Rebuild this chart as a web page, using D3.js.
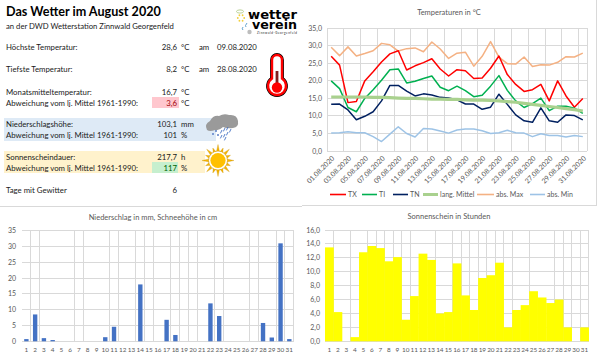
<!DOCTYPE html>
<html>
<head>
<meta charset="utf-8">
<script src="https://cdnjs.cloudflare.com/ajax/libs/d3/7.8.5/d3.min.js"></script>
<style>
  html,body{margin:0;padding:0;background:#fff;}
  svg{display:block;}
  text{font-family:Lato,"Open Sans",sans-serif;fill:#262626;}
  .tick-label{font-size:7px;fill:#595959;}
  .day-label{font-size:6.4px;fill:#595959;}
  .chart-title{font-size:7.5px;fill:#595959;text-anchor:middle;}
  .grid{stroke:#d9d9d9;stroke-width:1;shape-rendering:crispEdges;}
</style>
</head>
<body>
<svg id="chart" width="600" height="361"></svg>
<script>
//--- chart values
var days = d3.range(1,32);
var dateLabels = ["01.08.2020","03.08.2020","05.08.2020","07.08.2020","09.08.2020","11.08.2020","13.08.2020","15.08.2020","17.08.2020","19.08.2020","21.08.2020","23.08.2020","25.08.2020","27.08.2020","29.08.2020","31.08.2020"];
var tx = [27.0,24.5,13.8,14.1,20.0,22.6,25.4,27.7,28.6,23.1,24.3,25.2,26.3,23.4,21.4,23.2,22.9,20.7,20.8,23.6,27.1,21.8,19.0,17.0,17.5,19.0,14.3,20.0,15.7,12.5,15.0];
var tm = [20.0,17.8,12.4,11.2,15.0,17.5,20.2,23.2,23.4,19.4,19.9,20.7,21.4,18.2,17.2,18.5,17.2,15.5,15.9,18.5,21.5,17.3,14.3,12.4,13.5,15.1,11.5,12.8,12.8,12.2,10.7];
var tn = [13.3,13.4,11.7,8.9,9.9,11.2,14.3,18.7,18.7,17.1,15.7,16.3,16.0,15.3,15.1,14.6,13.4,13.4,11.9,12.5,16.2,13.3,10.3,8.6,8.2,12.3,8.6,8.2,10.3,10.1,8.9];
var langMittel = [15.4,15.4,15.4,15.4,15.4,15.3,15.3,15.2,15.1,15.0,15.0,14.9,14.8,14.8,14.7,14.7,14.6,14.5,14.5,14.4,14.3,14.1,13.9,13.6,13.3,13.0,12.7,12.4,12.1,11.8,11.4];
var absMax = [29.6,27.2,29.7,27.1,27.8,28.6,30.7,30.3,28.5,29.2,29.4,28.3,31.1,29.1,26.4,27.9,28.2,24.2,27.0,31.2,26.8,24.9,24.8,26.8,24.1,24.6,24.5,25.3,26.9,26.8,27.9];
var absMin = [5.1,5.2,5.5,5.2,5.2,4.1,2.7,4.8,6.9,5.0,4.0,6.4,6.3,5.7,5.1,6.0,6.3,6.3,5.8,5.0,5.2,5.9,5.2,5.1,4.1,4.9,4.4,4.4,4.0,4.4,4.1];
var niederschlag = [0.7,8.5,1.0,0.4,0,0,0,0,0,1.3,4.6,0,0,18.0,0,0,6.8,2.0,0,0,0,12.0,8.0,0,0,0,0,5.8,1.2,31.0,0.7];
var sonne = [13.5,4.2,0,0.6,12.8,13.7,13.4,11.5,12.1,3.1,6.5,12.6,11.7,4.0,4.2,11.2,6.6,4.5,9.1,9.5,11.3,2.0,4.5,5.2,7.2,6.3,5.5,6.0,2.0,0,2.0];

var tempTicks = [0,5,10,15,20,25,30,35];
var rainTicks = [0,5,10,15,20,25,30,35];
var sunTicks = [0,2,4,6,8,10,12,14,16];
//--- the picture only keeps some of the vertical gridlines
var rainGridDays = [1,2,6,7,10,11,13,14,15,17,18,19,20,22,23,26,27,29,30,31];
var sunGridDays = [1,3,5,6,7,8,9,10,13,15,16,17,18,19,20,21,22,24,27,28,29,30,31];

var tempSeries = [
  {name:"TX", values:tx, color:"#ff0000", width:1.5},
  {name:"TI", values:tm, color:"#00b050", width:1.5},
  {name:"TN", values:tn, color:"#002060", width:1.5},
  {name:"lang. Mittel", values:langMittel, color:"#a9d18e", width:3.2},
  {name:"abs. Max", values:absMax, color:"#f4b183", width:1.5},
  {name:"abs. Min", values:absMin, color:"#9dc3e6", width:1.5}
];
var fmt1 = function(v){ return v.toFixed(1).replace(".",","); };

var svg = d3.select("#chart");

//--- outer frame lines
function frameLine(x1,y1,x2,y2){
  svg.append("line").attr("class","grid").attr("x1",x1).attr("y1",y1).attr("x2",x2).attr("y2",y2);
}
frameLine(0,206.5,302,206.5);
frameLine(302,205.5,596,205.5);
frameLine(596.5,0,596.5,206);

//--- text panel
var panel = svg.append("g").attr("class","panel");
function bgRect(x,y,w,h,c){
  panel.append("rect").attr("x",x).attr("y",y).attr("width",w).attr("height",h).attr("fill",c);
}
bgRect(4,118,212,23,"#deeaf6");
bgRect(4,151,201,22,"#fff2cc");
bgRect(152,97,27,11,"#ffc7ce");
bgRect(152,162,26,11,"#c6efce");

function txt(x,y,s,size,anchor,color,weight){
  return panel.append("text").attr("x",x).attr("y",y).text(s)
    .style("font-size",(size||7.8)+"px")
    .style("text-anchor",anchor||"start")
    .style("fill",color||"#1a1a1a")
    .style("font-weight",weight||"normal");
}
txt(6,15.5,"Das Wetter im August 2020",12.6,"start","#000","bold");
txt(6,28.5,"an der DWD Wetterstation Zinnwald Georgenfeld",7.7);

var abw = "Abweichung vom lj. Mittel 1961-1990:";
txt(6,50,"Höchste Temperatur:");   txt(177,50,"28,6",7.8,"end"); txt(181,50,"°C"); txt(199,50,"am"); txt(217,50,"09.08.2020");
txt(6,72,"Tiefste Temperatur:");   txt(177,72,"8,2",7.8,"end");  txt(181,72,"°C"); txt(199,72,"am"); txt(217,72,"28.08.2020");
txt(6,94.5,"Monatsmitteltemperatur:"); txt(177,94.5,"16,7",7.8,"end"); txt(181,94.5,"°C");
txt(6,105.5,abw); txt(177,105.5,"3,6",7.8,"end","#9c0006"); txt(181,105.5,"°C");
txt(6,127,"Niederschlagshöhe:"); txt(177,127,"103,1",7.8,"end"); txt(181,127,"mm");
txt(6,138,abw); txt(177,138,"101",7.8,"end"); txt(181,138,"%");
txt(6,160,"Sonnenscheindauer:"); txt(177,160,"217,7",7.8,"end"); txt(181,160,"h");
txt(6,170.5,abw); txt(177,170.5,"117",7.8,"end","#006100"); txt(181,170.5,"%");
txt(6,192.5,"Tage mit Gewitter"); txt(177,192.5,"6",7.8,"end");

//--- logo
function logoWord(x,y,s,w){
  txt(x,y,s,12,"start","#000","bold").style("font-family","'DejaVu Sans',sans-serif")
    .attr("textLength",w).attr("lengthAdjust","spacingAndGlyphs");
}
logoWord(248,18.5,"wetter",49);
logoWord(252,29,"verein",45);
txt(257,33.5,"Zinnwald-Georgenfeld",3,"start","#222").attr("textLength",40);
panel.append("ellipse").attr("cx",240).attr("cy",11.5).attr("rx",3.5).attr("ry",1.6).attr("fill","none").attr("stroke","#a9c77f").attr("stroke-width",.8);
d3.range(6).forEach(function(i){
  var a = i*Math.PI/3;
  panel.append("circle").attr("cx",241+Math.cos(a)*3.2).attr("cy",18+Math.sin(a)*3.2).attr("r",.9).attr("fill","#f2cf3a");
});
panel.append("path").attr("d","M247 23 q-2.5 3 -1 4 M243 27 q-1.5 2 0 3").attr("fill","none").attr("stroke","#4f97c9").attr("stroke-width",.9);
panel.append("circle").attr("cx",249.5).attr("cy",32).attr("r",2.2).attr("fill","#bdbdbd");

//--- thermometer
var thermo = panel.append("g");
var thermoPath = "M272 60 a5 5 0 0 1 10 0 V78.5 a9 9 0 1 1 -10 0 Z";
thermo.append("path").attr("d",thermoPath).attr("fill","#fff").attr("stroke","#000").attr("stroke-width",3.8);
thermo.append("path").attr("d",thermoPath).attr("fill","#fff").attr("stroke","#f00").attr("stroke-width",2.4);
thermo.append("rect").attr("x",275.6).attr("y",71).attr("width",2.8).attr("height",14).attr("fill","#7f1f1f");
thermo.append("circle").attr("cx",277).attr("cy",87.5).attr("r",5.2).attr("fill","#f00");

//--- rain cloud
var cloud = panel.append("g");
cloud.append("path")
  .attr("d","M207 130 q-3 -6 3 -9 q3 -6 9 -5 q5 -3 10 -1 q8 -1 9 6 q1 6 -5 7 q-6 1 -10 -1 q-4 4 -8 3 q-5 2 -8 0 Z")
  .attr("fill","#9a9a9a");
[[222,130],[225,128],[228,127],[222,135],[225,134],[228,132],[231,129],[226,137]].forEach(function(p){
  cloud.append("line").attr("x1",p[0]).attr("y1",p[1]).attr("x2",p[0]-1.6).attr("y2",p[1]+3.4).attr("stroke","#4472c4").attr("stroke-width",.9);
});
[[216,131],[213,134],[218,135]].forEach(function(p){
  cloud.append("circle").attr("cx",p[0]).attr("cy",p[1]).attr("r",1).attr("fill","#5b7fc7");
});

//--- sun
var sun = panel.append("g").attr("transform","translate(218,160.5)");
d3.range(16).forEach(function(i){
  var a = i*Math.PI/8, da = .17, r0 = 9, r1 = i%2 ? 13.5 : 16;
  var pts = [[Math.cos(a-da)*r0,Math.sin(a-da)*r0],[Math.cos(a)*r1,Math.sin(a)*r1],[Math.cos(a+da)*r0,Math.sin(a+da)*r0]];
  sun.append("path").attr("d",d3.line()(pts)+"Z").attr("fill","#f5b400").attr("stroke","#c98f00").attr("stroke-width",.3);
});
sun.append("circle").attr("r",9.5).attr("fill","#fff").attr("stroke","#d39a00").attr("stroke-width",.6);
sun.append("circle").attr("r",7.6).attr("fill","#ffc000");

//--- temperature line chart
var xTemp = d3.scaleBand().domain(days).range([327,587]);
var yTemp = d3.scaleLinear().domain([0,35]).range([151,28.3]);
var gT = svg.append("g");
gT.selectAll("line.h").data(tempTicks).enter().append("line").attr("class","grid h")
  .attr("x1",327).attr("x2",587)
  .attr("y1",function(d){return yTemp(d);}).attr("y2",function(d){return yTemp(d);});
gT.selectAll("line.v").data(days.filter(function(d){return d%2==1;})).enter().append("line").attr("class","grid v")
  .attr("x1",function(d){return xTemp(d);}).attr("x2",function(d){return xTemp(d);})
  .attr("y1",28).attr("y2",151);
gT.append("line").attr("class","grid").attr("x1",587).attr("x2",587).attr("y1",28).attr("y2",151);

gT.selectAll("text.y").data(tempTicks).enter().append("text").attr("class","tick-label y")
  .attr("x",322).attr("text-anchor","end").attr("dy",2.5)
  .attr("y",function(d){return yTemp(d);})
  .text(function(d){return fmt1(d);});

var line = d3.line()
  .x(function(d,i){return xTemp(days[i])+xTemp.bandwidth()/2;})
  .y(function(d){return yTemp(d);});
//--- draw order as in the sheet, lang. Mittel sits on top of the daily lines
[tempSeries[4],tempSeries[5],tempSeries[0],tempSeries[1],tempSeries[2],tempSeries[3]].forEach(function(s){
  gT.append("path").attr("d",line(s.values)).attr("fill","none")
    .attr("stroke",s.color).attr("stroke-width",s.width).attr("stroke-linejoin","round");
});

gT.selectAll("text.x").data(dateLabels).enter().append("text").attr("class","tick-label x")
  .attr("text-anchor","end")
  .attr("transform",function(d,i){
    var px = xTemp(days[i*2])+xTemp.bandwidth()/2+2;
    return "translate("+px+",157) rotate(-45)";
  })
  .attr("dy",2.5)
  .text(function(d){return d;});

//--- legend
var legendX = [330,362,393,423,477,530];
var legendLen = [16,15,15,15,17,15];
var legend = gT.selectAll("g.legend").data(tempSeries).enter().append("g").attr("class","legend")
  .attr("transform",function(d,i){return "translate("+legendX[i]+",194.5)";});
legend.append("line").attr("x2",function(d,i){return legendLen[i];})
  .attr("stroke",function(d){return d.color;})
  .attr("stroke-width",function(d){return d.width==3.2 ? 3 : 1.6;});
legend.append("text").attr("class","tick-label")
  .attr("x",function(d,i){return legendLen[i]+2;}).attr("y",2.5)
  .text(function(d){return d.name;});
gT.append("text").attr("class","chart-title").attr("x",449).attr("y",15).text("Temperaturen in °C");

//--- rain bars
var xRain = d3.scaleBand().domain(days).range([22,293.7]).paddingInner(.5).paddingOuter(.25);
var yRain = d3.scaleLinear().domain([0,35]).range([341.3,230.7]);
var rainStep = xRain.step();
var gR = svg.append("g");
gR.selectAll("line.h").data(rainTicks).enter().append("line").attr("class","grid h")
  .attr("x1",22).attr("x2",293.7)
  .attr("y1",function(d){return yRain(d);}).attr("y2",function(d){return yRain(d);});
gR.selectAll("line.v").data(rainGridDays).enter().append("line").attr("class","grid v")
  .attr("x1",function(d){return xRain(d)+xRain.bandwidth()/2+rainStep/2;})
  .attr("x2",function(d){return xRain(d)+xRain.bandwidth()/2+rainStep/2;})
  .attr("y1",230.7).attr("y2",341.3);
gR.selectAll("rect").data(niederschlag).enter().append("rect")
  .attr("x",function(d,i){return xRain(days[i]);})
  .attr("width",xRain.bandwidth())
  .attr("y",function(d){return yRain(d);})
  .attr("height",function(d){return yRain(0)-yRain(d);})
  .attr("fill","#4472c4");
gR.selectAll("text.y").data(rainTicks).enter().append("text").attr("class","tick-label y")
  .attr("x",16).attr("text-anchor","end").attr("dy",2.5)
  .attr("y",function(d){return yRain(d);})
  .text(function(d){return d;});
gR.selectAll("text.x").data(days).enter().append("text").attr("class","day-label x")
  .attr("text-anchor","middle").attr("y",352)
  .attr("x",function(d){return xRain(d)+xRain.bandwidth()/2;})
  .text(function(d){return d;});
gR.append("text").attr("class","chart-title").attr("x",153).attr("y",219.5).text("Niederschlag in mm, Schneehöhe in cm");

//--- sunshine bars
var xSun = d3.scaleBand().domain(days).range([325,588.7]);
var ySun = d3.scaleLinear().domain([0,16]).range([341.3,230]);
var gS = svg.append("g");
gS.selectAll("line.h").data(sunTicks).enter().append("line").attr("class","grid h")
  .attr("x1",325).attr("x2",588.7)
  .attr("y1",function(d){return ySun(d);}).attr("y2",function(d){return ySun(d);});
gS.selectAll("line.v").data(sunGridDays).enter().append("line").attr("class","grid v")
  .attr("x1",function(d){return xSun(d)+xSun.bandwidth();})
  .attr("x2",function(d){return xSun(d)+xSun.bandwidth();})
  .attr("y1",230).attr("y2",341.3);
gS.selectAll("rect").data(sonne).enter().append("rect")
  .attr("x",function(d,i){return xSun(days[i]);})
  .attr("width",xSun.bandwidth()+.3)
  .attr("y",function(d){return ySun(d);})
  .attr("height",function(d){return ySun(0)-ySun(d);})
  .attr("fill","#ffff00");
gS.selectAll("text.y").data(sunTicks).enter().append("text").attr("class","tick-label y")
  .attr("x",320).attr("text-anchor","end").attr("dy",2.5)
  .attr("y",function(d){return ySun(d);})
  .text(function(d){return fmt1(d);});
gS.selectAll("text.x").data(days).enter().append("text").attr("class","day-label x")
  .attr("text-anchor","middle").attr("y",352)
  .attr("x",function(d){return xSun(d)+xSun.bandwidth()/2;})
  .text(function(d){return d;});
gS.append("text").attr("class","chart-title").attr("x",449).attr("y",219).text("Sonnenschein in Stunden");
</script>
</body>
</html>
